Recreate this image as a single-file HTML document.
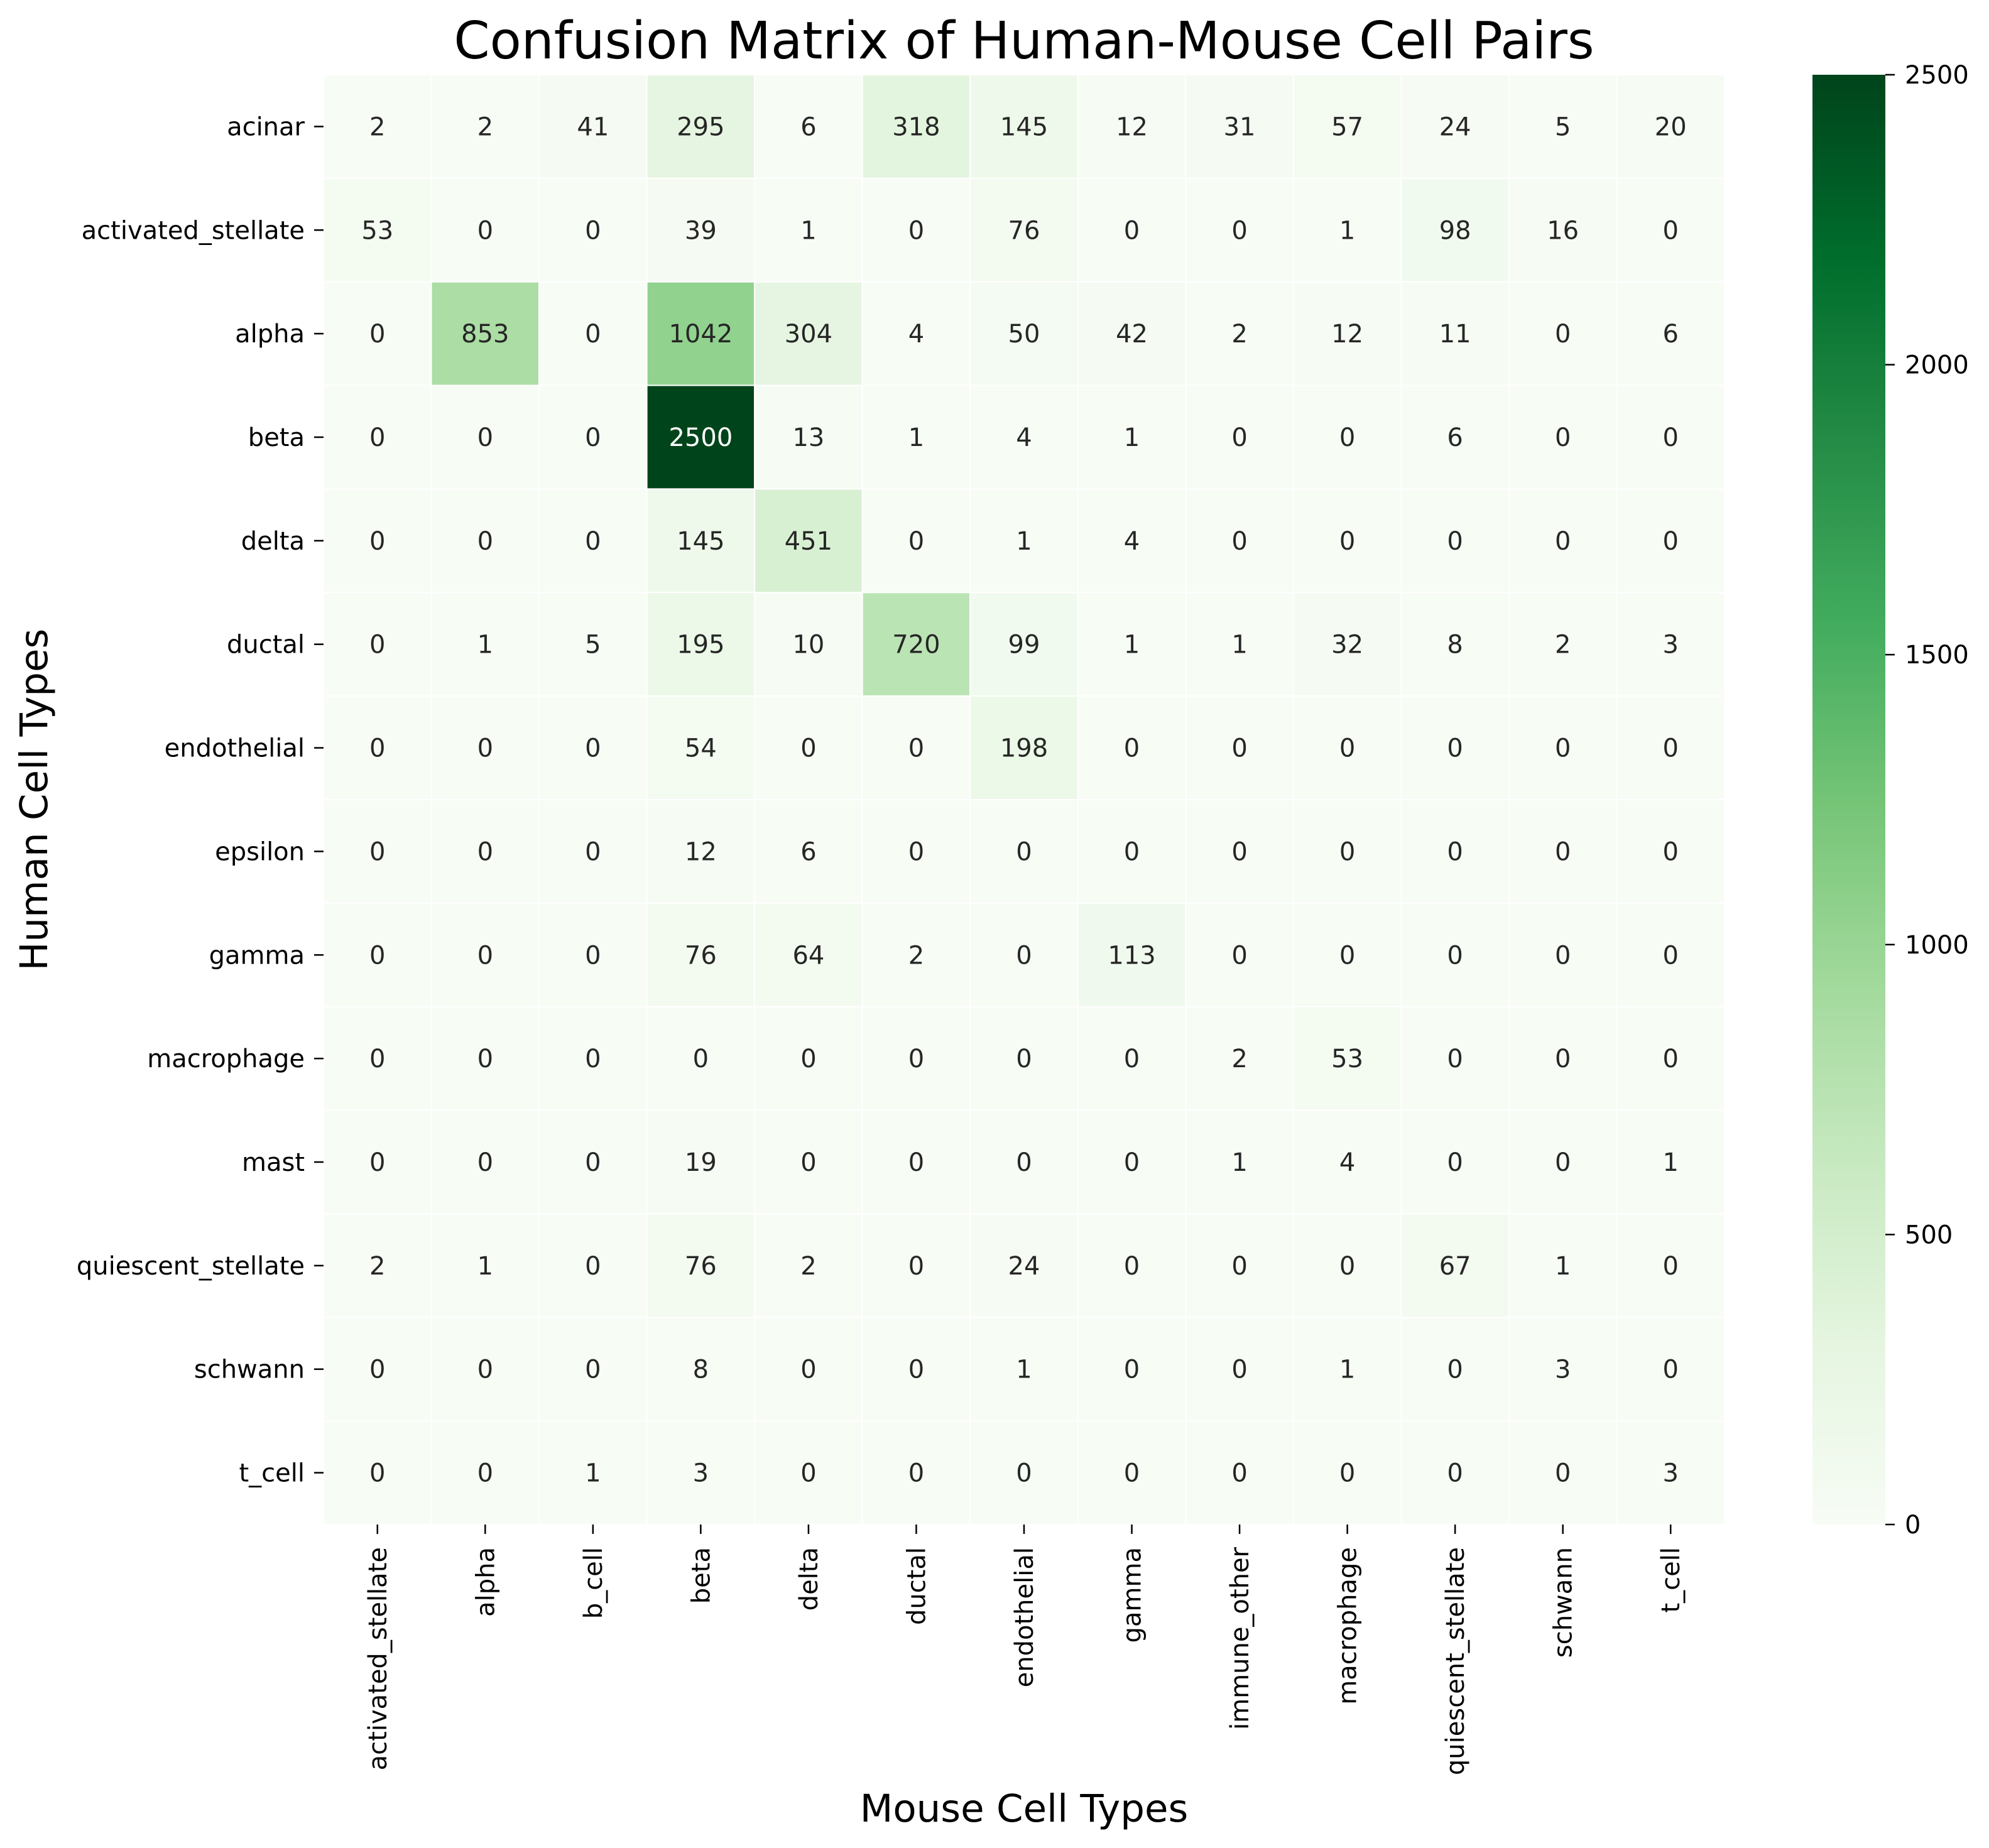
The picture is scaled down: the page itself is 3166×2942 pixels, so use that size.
<!DOCTYPE html>
<html><head><meta charset="utf-8">
<style>
html,body{margin:0;padding:0;background:#fff;}
svg{display:block;font-family:"DejaVu Sans","Liberation Sans",sans-serif;}
</style></head>
<body>
<svg id="chart" xmlns="http://www.w3.org/2000/svg" width="3166" height="2942" viewBox="0 0 3166 2942">
<rect width="3166" height="2942" fill="#fff"/>
<text x="1630" y="93" text-anchor="middle" font-size="82" fill="#000">Confusion Matrix of Human-Mouse Cell Pairs</text>
<text x="1630" y="2900" text-anchor="middle" font-size="61" fill="#000">Mouse Cell Types</text>
<text transform="translate(75,1273) rotate(-90)" text-anchor="middle" font-size="61" fill="#000">Human Cell Types</text>
<g id="cells"></g>
<g id="xticks"></g>
<g id="yticks"></g>
<defs><linearGradient id="cbgrad" x1="0" y1="1" x2="0" y2="0">
<stop offset="0" stop-color="#f7fcf5"/><stop offset="0.125" stop-color="#e5f5e0"/><stop offset="0.25" stop-color="#c7e9c0"/><stop offset="0.375" stop-color="#a1d99b"/><stop offset="0.5" stop-color="#74c476"/><stop offset="0.625" stop-color="#41ab5d"/><stop offset="0.75" stop-color="#238b45"/><stop offset="0.875" stop-color="#006d2c"/><stop offset="1" stop-color="#00441b"/>
</linearGradient></defs>
<rect x="2885" y="119" width="116" height="2308" fill="url(#cbgrad)"/>
<g id="cbticks"></g>
</svg>
<script>
const rowLabels = ["acinar","activated_stellate","alpha","beta","delta","ductal","endothelial","epsilon","gamma","macrophage","mast","quiescent_stellate","schwann","t_cell"];
const colLabels = ["activated_stellate","alpha","b_cell","beta","delta","ductal","endothelial","gamma","immune_other","macrophage","quiescent_stellate","schwann","t_cell"];
const matrixValues = [
[2,2,41,295,6,318,145,12,31,57,24,5,20],
[53,0,0,39,1,0,76,0,0,1,98,16,0],
[0,853,0,1042,304,4,50,42,2,12,11,0,6],
[0,0,0,2500,13,1,4,1,0,0,6,0,0],
[0,0,0,145,451,0,1,4,0,0,0,0,0],
[0,1,5,195,10,720,99,1,1,32,8,2,3],
[0,0,0,54,0,0,198,0,0,0,0,0,0],
[0,0,0,12,6,0,0,0,0,0,0,0,0],
[0,0,0,76,64,2,0,113,0,0,0,0,0],
[0,0,0,0,0,0,0,0,2,53,0,0,0],
[0,0,0,19,0,0,0,0,1,4,0,0,1],
[2,1,0,76,2,0,24,0,0,0,67,1,0],
[0,0,0,8,0,0,1,0,0,1,0,3,0],
[0,0,1,3,0,0,0,0,0,0,0,0,3]
];
const cbTickValues = [0,500,1000,1500,2000,2500];
const vmin = 0, vmax = 2500;

const NS = "http://www.w3.org/2000/svg";
const L = 515, R = 2745, T = 119, B = 2427;
const cw = (R - L) / colLabels.length, ch = (B - T) / rowLabels.length;
const xPos = i => L + i * cw;
const yPos = j => T + j * ch;
const cbY = v => B - (v - vmin) / (vmax - vmin) * (B - T);
const stops = [[247,252,245],[229,245,224],[199,233,192],[161,217,155],[116,196,118],[65,171,93],[35,139,69],[0,109,44],[0,68,27]];
function colorOf(v){
  let t = Math.max(0, Math.min(1, (v - vmin) / (vmax - vmin))) * (stops.length - 1);
  let i = Math.min(Math.floor(t), stops.length - 2), f = t - i;
  const c = stops[i].map((a, k) => Math.round(a + (stops[i+1][k] - a) * f));
  return c;
}
function lum(c){
  const s = c.map(x => { x /= 255; return x <= 0.03928 ? x / 12.92 : Math.pow((x + 0.055) / 1.055, 2.4); });
  return 0.2126 * s[0] + 0.7152 * s[1] + 0.0722 * s[2];
}
function mk(tag, attrs, parent){
  const e = document.createElementNS(NS, tag);
  for (const k in attrs) e.setAttribute(k, attrs[k]);
  parent.appendChild(e);
  return e;
}
const cells = document.getElementById('cells');
matrixValues.forEach((row, j) => {
  row.forEach((v, i) => {
    const c = colorOf(v);
    const r = mk('rect', {x: xPos(i), y: yPos(j), width: cw, height: ch, fill: `rgb(${c})`, stroke: '#fff', 'stroke-width': 2}, cells);
    
    
    const t = mk('text', {x: xPos(i) + cw / 2, y: yPos(j) + ch / 2 + 14, 'text-anchor': 'middle', 'font-size': 40, fill: lum(c) > 0.408 ? '#262626' : '#ffffff'}, cells);
    t.textContent = v;
    
    
  });
});
const xt = document.getElementById('xticks');
colLabels.forEach((lab, i) => {
  const x = xPos(i) + cw / 2;
  const l = mk('line', {x1: x, x2: x, y1: B, y2: B + 15, stroke: '#000', 'stroke-width': 2.5}, xt);
  
  
  const t = mk('text', {transform: `translate(${x + 14},${B + 36}) rotate(-90)`, 'text-anchor': 'end', 'font-size': 40, fill: '#000'}, xt);
  t.textContent = lab;
  
  
});
const yt = document.getElementById('yticks');
rowLabels.forEach((lab, j) => {
  const y = yPos(j) + ch / 2;
  const l = mk('line', {x1: L - 15, x2: L, y1: y, y2: y, stroke: '#000', 'stroke-width': 2.5}, yt);
  
  
  const t = mk('text', {x: L - 30, y: y + 14, 'text-anchor': 'end', 'font-size': 40, fill: '#000'}, yt);
  t.textContent = lab;
  
  
});
const cb = document.getElementById('cbticks');
cbTickValues.forEach(v => {
  const y = cbY(v);
  const l = mk('line', {x1: 3001, x2: 3016, y1: y, y2: y, stroke: '#000', 'stroke-width': 2.5}, cb);
  
  
  const t = mk('text', {x: 3032, y: y + 14, 'font-size': 40, fill: '#000'}, cb);
  t.textContent = v;
  
  
});
</script>
</body></html>
